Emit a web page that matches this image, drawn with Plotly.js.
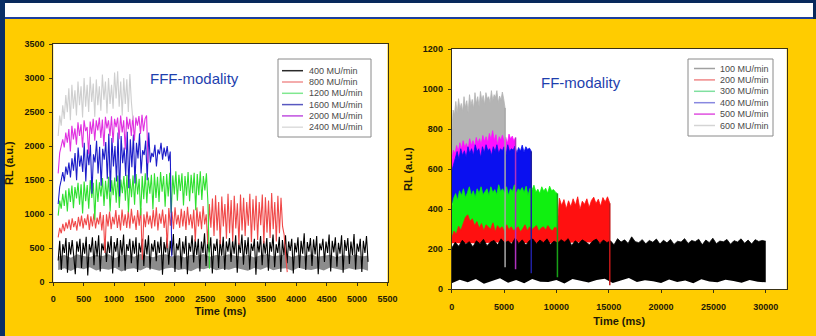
<!DOCTYPE html>
<html><head><meta charset="utf-8">
<script src="https://cdn.plot.ly/plotly-3.0.1.min.js"></script>
<style>html,body{margin:0;padding:0;background:#ffcc00;overflow:hidden}#chart{width:816px;height:336px}</style>
</head><body><div id="chart"></div>
<script>
// ---------------- FFF-modality (left) ----------------
const fffLabels = ['400 MU/min','800 MU/min','1200 MU/min','1600 MU/min','2000 MU/min','2400 MU/min'];
const fffStart = [80, 80, 80, 80, 80, 80];
const fffEnd   = [5180, 3850, 2570, 1950, 1560, 1310];
const fff400 = [320,610,180,560,430,650,140,590,410,620,390,120,600,450,640,210,580,420,670,100,
  560,440,660,250,610,380,690,160,570,470,630,300,600,430,680,130,590,450,650,220,
  620,400,700,170,560,460,640,280,610,420,660,150,580,440,640,240,630,410,690,190,
  570,450,620,310,600,430,670,110,590,440,660,260,610,400,710,150,570,470,650,200,
  600,420,680,120,580,450,690,290,630,400,640,160,600,430,720,240,590,440,660,130,
  570,460,640,210,620,390,670,180,600,450,650,300,610,420,690,140,580,430,700,260,
  620,410,660,190,570,460,640,110,600,440,680,250,610,420,650,170,590,450,700,220,
  560,430,670,150,620,400,690,280,600,460,640,130,580,440,660,210,610,420,720,180,
  590,450,650,240,630,410,680,120,570,470,640,300,600,430,700,160,610,440,660,230,
  580,420,690,140,620,460,650,270,600,400,710,190,570,450,640,150,610,430,680,300];
const fff400BandLo = [180,205,165,215,190,222,172,200,186,212,160,196,208,175,218,190,168,202,212,182,196,164,206,190,216,176,200,184,212,190,
  170,210,186,220,176,198,206,168,214,190,182,204,172,216,194,178,208,186,200,170];
const fff400BandHi = [380,402,360,412,388,372,402,386,412,358,396,406,374,416,390,368,402,412,378,396,364,406,390,416,374,400,386,412,390,380,
  404,366,396,414,382,392,408,370,400,384,412,376,396,406,368,398,388,410,380,392];
const fff800 = [660,800,720,860,750,880,790,920,770,940,810,900,760,960,820,980,790,940,840,1000,
  770,970,820,1010,790,950,850,1030,760,990,430,1000,820,1040,780,960,850,1060,800,990,
  760,1070,830,1000,800,1050,790,1080,860,980,770,1060,830,1090,330,1000,810,1040,850,980,
  790,1060,820,1100,760,1010,860,1070,800,1000,500,1090,830,1040,780,1100,850,990,800,1080,
  820,1050,770,1110,840,1000,790,1070,600,1100,820,1040,780,1120,850,1000,560,1150,800,1230,
  680,1280,760,1180,560,1260,820,1150,640,1300,720,1210,600,1270,790,1160,550,1290,760,1240,
  680,1180,830,1300,590,1220,760,1270,620,1180,840,1290,570,1250,730,1200,650,1310,780,1180,
  600,1270,720,1240,820,700,400,150];
const fff1200 = [980,1200,1080,1300,1120,1350,1040,1380,1180,1420,1090,1400,1230,1460,1140,1440,1010,1480,1190,1430,
  1080,1500,1240,1460,920,1510,1180,1470,1260,1530,1120,1490,1220,1550,1040,1500,1280,1540,1170,1570,
  1090,1510,1310,1560,1200,1580,1030,1520,1250,1570,1140,1590,1290,1520,980,1560,1220,1600,1160,1540,
  1300,1580,1070,1600,1240,1550,1180,1620,1330,1560,1110,1590,1260,1610,1020,1570,1290,1630,1200,1580,
  1340,1600,1130,1560,1270,1620,1190,1580,1310,1610,1060,1590,1280,1630,1210,1560,1350,1600,1170,200];
const fff1600 = [1150,1400,1500,1620,1480,1700,1580,1760,1540,1820,1640,1900,1500,1980,1700,1860,1620,2050,1480,1950,
  1720,2020,1300,1880,1760,2080,1600,1990,1420,1960,1800,2060,1520,2180,1330,2120,1700,2000,1480,2200,
  1260,2150,1750,1980,1560,2210,1380,2100,1690,2170,1450,2050,1820,2190,1600,1940,1870,2080,1500,2200,
  1760,1900,1840,2020,1700,1950,1880,2050,1800,1980,1850,2000,1780,1920,380];
const fff2000 = [1600,1900,2000,2100,1980,2200,2050,2250,1920,2300,2100,2260,2020,2350,2150,2320,1980,2380,2220,2280,
  1880,2360,2180,2400,2080,2380,2230,2420,2120,2390,2000,2430,2260,2380,2150,2440,2050,2400,2280,2420,
  2100,2450,2200,2380,1950,2430,2250,2400,2150,2450,2080,2420,2300,2440,2180,2460,2220,2400,2450,1750];
const fff2400 = [2150,2450,2300,2600,2400,2750,2500,2850,2380,2900,2550,2820,2450,2950,2600,2880,2420,3000,2580,2900,
  2500,3020,2650,2920,2430,2980,2600,2880,2520,3050,2680,2950,2480,3000,2620,2900,2550,3080,2700,3100,
  2580,2950,2450,3000,2620,2980,2500,3060,2650,2380];

// ---------------- FF-modality (right) ----------------
const ffLabels = ['100 MU/min','200 MU/min','300 MU/min','400 MU/min','500 MU/min','600 MU/min'];
const ffStart = [0, 0, 0, 0, 0, 0];
const ffEnd   = [30000, 15100, 10100, 7600, 6100, 5100];
const ff100Hi = [205,235,215,245,225,238,212,242,228,250,218,236,244,222,252,232,241,226,256,229,
  247,221,243,251,228,246,233,252,224,241,231,248,236,253,219,242,229,247,236,223,
  241,251,228,246,233,242,222,253,236,247,229,262,238,233,248,227,244,235,251,226,
  245,232,249,224,240,236,253,229,244,238,250,222,246,233,255,228,241,237,249,225,
  243,236,252,230,246,226,248,239,244,240];
const ff100Lo = [30,48,35,52,28,42,55,33,47,30,52,38,36,46,29,51,41,34,47,53,31,42,56,36,45,40,32,49,37,44,30,50,39,35,48,41,33,46,38,35];
const ff200Hi = [255,290,275,315,295,330,360,372,340,352,318,338,305,328,292,322,312,300,332,288,
  318,302,312,288,322,298,312,292,302,312,288,302,322,292,312,298,308,318,290,305,
  312,296,318,300,292,310,302,
  455,418,448,402,442,412,452,420,462,398,440,424,452,408,444,460,428,450,415,458,436,462,430];
const ff200Lo = [230,230,235,230,230,235,230];
const ff300Hi = [410,455,478,445,492,468,502,458,482,512,468,492,458,502,478,512,472,488,502,468,
  512,482,498,472,522,488,502,478,512,468,502,488,522,478,502,492,508,482,515,470,
  505,495,520,485,500,478,512,490,505,480,515,492,498,485,478];
const ff300Lo = [240,240,245,240,240];
const ff400Hi = [590,630,655,688,648,702,668,692,658,712,678,702,668,722,688,702,658,712,682,722,
  692,702,668,712,688,722,678,702,692,712,668,722,688,702,695,715,680,708,690,720,
  685,712,698,705,690];
const ff400Lo = [430,430,440,430,430];
const ff500Hi = [640,695,678,718,688,732,702,742,708,728,698,752,718,742,712,758,728,752,722,768,
  738,762,732,778,748,792,742,772,722,762,745,770,735,760,728,775,750,765,740,758];
const ff500Lo = [560,560,570,560,560];
const ff600Hi = [770,895,872,938,878,952,902,928,888,962,908,942,882,972,918,948,902,982,928,962,
  912,988,942,968,922,982,952,962,932,992,942,972,958,992,932,965,945,985,950,905];
const ff600Lo = [660,660,670,660,660];
const ffDropLow = [null, 20, 60, 80, 100, 110];

// ---------------- helpers ----------------
const W = 816, H = 336;
const PX = x => x / W;
const PY = y => 1 - y / H;
function grid(a, b, n) { const t = []; for (let i = 0; i < n; i++) t.push(a + (b - a) * i / (n - 1)); return t; }

const fffVals = [fff400, fff800, fff1200, fff1600, fff2000, fff2400];
const fffColors = ['#000000', '#f04848', '#30e030', '#1c1cc8', '#e030e0', '#cfcfcf'];
const fffLegColors = ['#2a2a2a', '#f09090', '#80e890', '#5858c0', '#c050e0', '#dddddd'];
const ffHi = [ff100Hi, ff200Hi, ff300Hi, ff400Hi, ff500Hi, ff600Hi];
const ffLo = [ff100Lo, ff200Lo, ff300Lo, ff400Lo, ff500Lo, ff600Lo];
const ffColors = ['#000000', '#ff1010', '#10f010', '#0a10f0', '#ff10ff', '#b4b4b4'];
const ffDropColors = [null, '#c01818', '#18a018', '#2020a0', '#b030c0', '#a8a8a8'];
const ffLegColors = ['#a0a0a0', '#f08888', '#80e0a0', '#8888e0', '#e050e0', '#d4d4d4'];

const traces = [];
traces.push({x: grid(fffStart[0], fffEnd[0], fff400BandLo.length), y: fff400BandLo, xaxis:'x', yaxis:'y',
  mode:'lines', line:{width:0, color:'#8c8c8c'}, showlegend:false, hoverinfo:'skip'});
traces.push({x: grid(fffStart[0], fffEnd[0], fff400BandHi.length), y: fff400BandHi, xaxis:'x', yaxis:'y',
  mode:'lines', fill:'tonexty', fillcolor:'#8c8c8c', line:{width:0, color:'#8c8c8c'}, showlegend:false, hoverinfo:'skip'});
fffVals.forEach((v, i) => {
  traces.push({x: grid(fffStart[i], fffEnd[i], v.length), y: v, xaxis:'x', yaxis:'y', name: fffLabels[i],
    mode:'lines', line:{width:1.1, color: fffColors[i]}, showlegend:false});
});
for (let i = 5; i >= 0; i--) {
  traces.push({x: grid(ffStart[i], ffEnd[i], ffLo[i].length), y: ffLo[i], xaxis:'x2', yaxis:'y2',
    mode:'lines', line:{width:0, color: ffColors[i]}, showlegend:false, hoverinfo:'skip'});
  traces.push({x: grid(ffStart[i], ffEnd[i], ffHi[i].length), y: ffHi[i], xaxis:'x2', yaxis:'y2', name: ffLabels[i],
    mode:'lines', fill:'tonexty', fillcolor: ffColors[i], line:{width:0.8, color: ffColors[i]}, showlegend:false});
}
for (let i = 1; i < 6; i++) {
  const top = ffHi[i][ffHi[i].length - 1];
  traces.push({x:[ffEnd[i], ffEnd[i]], y:[top, ffDropLow[i]], xaxis:'x2', yaxis:'y2', mode:'lines',
    line:{width:1.5, color: ffDropColors[i]}, showlegend:false, hoverinfo:'skip'});
}

const tickFont = {family:'Liberation Sans', size:9, color:'#1e1a08', weight:'bold'};
const titleFont = {family:'Liberation Sans', size:11, color:'#1e1a08', weight:'bold'};
const axBase = {showline:true, linecolor:'#3a3214', linewidth:1, mirror:true, ticks:'outside', ticklen:3,
  tickcolor:'#3a3214', tickwidth:1, showgrid:false, zeroline:false, tickfont:tickFont, fixedrange:true, tickformat:'d'};

const shapes = [
  {type:'rect', xref:'paper', yref:'paper', x0:0, x1:1, y0:PY(3), y1:1, fillcolor:'#08295c', line:{width:0}, layer:'below'},
  {type:'rect', xref:'paper', yref:'paper', x0:0, x1:PX(813), y0:PY(17), y1:PY(3), fillcolor:'#ffffff', line:{width:0}, layer:'below'},
  {type:'rect', xref:'paper', yref:'paper', x0:PX(813), x1:1, y0:PY(19), y1:PY(3), fillcolor:'#08295c', line:{width:0}, layer:'below'},
  {type:'rect', xref:'paper', yref:'paper', x0:0, x1:PX(813), y0:PY(19), y1:PY(17), fillcolor:'#1d3f9e', line:{width:0}, layer:'below'},
  {type:'rect', xref:'paper', yref:'paper', x0:0, x1:PX(5), y0:0, y1:1, fillcolor:'#0a2f66', line:{width:0}, layer:'below'}
];
const annotations = [
  {xref:'paper', yref:'paper', x:PX(194), y:PY(78), text:'FFF-modality', showarrow:false, xanchor:'center', yanchor:'middle',
   font:{family:'Liberation Sans', size:15, color:'#1e3fae'}},
  {xref:'paper', yref:'paper', x:PX(581), y:PY(82), text:'FF-modality', showarrow:false, xanchor:'center', yanchor:'middle',
   font:{family:'Liberation Sans', size:15, color:'#1e3fae'}}
];
function legend(box, lineX0, lineX1, textX, rowY0, rowStep, labels, colors) {
  shapes.push({type:'rect', xref:'paper', yref:'paper', x0:PX(box[0]), x1:PX(box[1]), y0:PY(box[3]), y1:PY(box[2]),
    fillcolor:'#ffffff', line:{width:1, color:'#8a8a8a'}, layer:'above'});
  labels.forEach((lab, i) => {
    const y = rowY0 + rowStep * i;
    shapes.push({type:'line', xref:'paper', yref:'paper', x0:PX(lineX0), x1:PX(lineX1), y0:PY(y), y1:PY(y),
      line:{width:1.5, color: colors[i]}, layer:'above'});
    annotations.push({xref:'paper', yref:'paper', x:PX(textX), y:PY(y), text:lab, showarrow:false, xanchor:'left', yanchor:'middle',
      font:{family:'Liberation Sans', size:9, color:'#4a4a4a'}});
  });
}
legend([278, 371, 59, 137], 282, 303, 307, 70.7, 11.3, fffLabels, fffLegColors);
legend([688, 773, 59, 136], 694, 715, 718, 68.5, 11.4, ffLabels, ffLegColors);

const layout = {
  width: W, height: H, margin:{l:0, r:0, t:0, b:0},
  paper_bgcolor:'#ffcc00', plot_bgcolor:'#ffffff', showlegend:false,
  xaxis: Object.assign({}, axBase, {domain:[PX(53.3), PX(387.5)], range:[0, 5500], dtick:500, tick0:0, anchor:'y',
    ticklabelstandoff:5, title:{text:'Time (ms)', font:titleFont, standoff:4}}),
  yaxis: Object.assign({}, axBase, {domain:[PY(282.3), PY(44)], range:[0, 3500], dtick:500, tick0:0, anchor:'x',
    ticklabelstandoff:3, title:{text:'RL (a.u.)', font:titleFont, standoff:8}}),
  xaxis2: Object.assign({}, axBase, {domain:[PX(451.7), PX(786.7)], range:[0, 32000], dtick:5000, tick0:0, anchor:'y2',
    ticklabelstandoff:6, title:{text:'Time (ms)', font:titleFont, standoff:6}}),
  yaxis2: Object.assign({}, axBase, {domain:[PY(289.3), PY(49)], range:[0, 1200], dtick:200, tick0:0, anchor:'x2',
    ticklabelstandoff:3, title:{text:'RL (a.u.)', font:titleFont, standoff:8}}),
  shapes: shapes, annotations: annotations
};
Plotly.newPlot('chart', traces, layout, {displayModeBar:false, staticPlot:true});
</script></body></html>
